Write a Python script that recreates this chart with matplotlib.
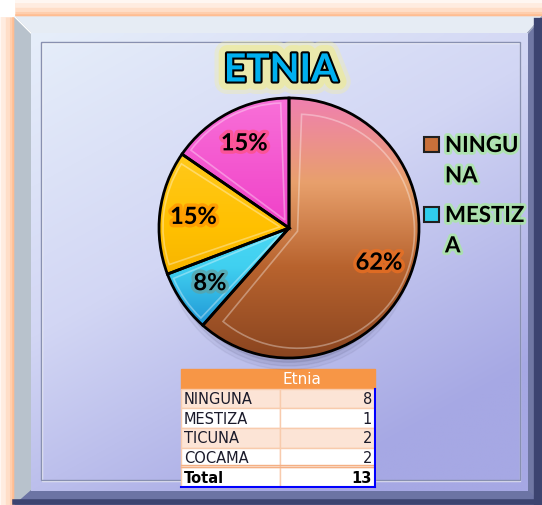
import numpy as np
import matplotlib
matplotlib.use("Agg")
import matplotlib.pyplot as plt
from matplotlib.patches import Rectangle, Polygon, Wedge, Ellipse
import matplotlib.patheffects as pe
from matplotlib.colors import to_rgb

# ---- data ----
categories = ["NINGUNA", "MESTIZA", "TICUNA", "COCAMA"]
values = [8, 1, 2, 2]
legend_labels = ["NINGU\nNA", "MESTIZ\nA"]
title = "ETNIA"
table_header = "Etnia"

colors = ["#C8703A", "#30CDEB", "#FFC000", "#F040C8"]
grad_stops = [
    [(1.0, "#F080B0"), (0.35, "#E8A06C"), (-0.3, "#B8632E"), (-1.0, "#8A4520")],
    [(1.0, "#70F0FF"), (-0.3, "#40D0F0"), (-1.0, "#1078C8")],
    [(1.0, "#FFD030"), (0.0, "#FFC000"), (-1.0, "#E8A000")],
    [(1.0, "#F870D8"), (0.0, "#F040C8"), (-1.0, "#D830B0")],
]
label_glow = ["#F07020", "#60A0A0", "#FF9000", "#FF5080"]

W, H = 542, 506
fig = plt.figure(figsize=(W / 100, H / 100), dpi=100)
fig.patch.set_facecolor("white")

bg = fig.add_axes([0, 0, 1, 1])
bg.set_xlim(0, W)
bg.set_ylim(H, 0)
bg.axis("off")

# orange glow
for lw, a in [(26, 0.08), (20, 0.12), (14, 0.18), (8, 0.25), (4, 0.35)]:
    bg.add_patch(Rectangle((15, 18), 540, 500, fill=False, edgecolor="#FFA060",
                           lw=lw, alpha=a, zorder=1))

# frame bevels
x0, y0, x1, y1 = 15, 18, 542, 506
ix0, iy0, ix1, iy1 = 31, 34, 528, 492
bg.add_patch(Polygon([(x0, y0), (x1, y0), (ix1, iy0), (ix0, iy0)], color="#E6ECF4", zorder=2))
bg.add_patch(Polygon([(x0, y0), (ix0, iy0), (ix0, iy1), (x0, y1)], color="#B8C2CC", zorder=2))
bg.add_patch(Polygon([(x1, y0), (x1, y1), (ix1, iy1), (ix1, iy0)], color="#7078A4", zorder=2))
bg.add_patch(Polygon([(x0, y1), (x1, y1), (ix1, iy1), (ix0, iy1)], color="#6C74A4", zorder=2))
bg.plot([x0, ix0], [y0, iy0], color="white", lw=1, zorder=2.1)
bg.plot([x1, ix1], [y0, iy0], color="#A0A8C0", lw=1, zorder=2.1)
bg.plot([x1 - 4, x1 - 4], [y0 + 5, y1], color="#3C4470", lw=6, zorder=2.2)
bg.plot([x0, x1], [y1 - 3, y1 - 3], color="#3C4470", lw=4, zorder=2.2)

# inner gradient
ny, nx = 120, 120
gy, gx = np.mgrid[0:1:ny * 1j, 0:1:nx * 1j]
t = np.clip(0.45 * gx + 0.75 * gy, 0, 1)
c_a = np.array(to_rgb("#E6EEFA"))
c_b = np.array(to_rgb("#D2D6F4"))
c_c = np.array(to_rgb("#A6A8E4"))
tt = t[..., None]
img = np.where(tt < 0.5, c_a + (c_b - c_a) * (tt / 0.5), c_b + (c_c - c_b) * ((tt - 0.5) / 0.5))
bg.imshow(img, extent=(ix0, ix1, iy1, iy0), origin="upper", aspect="auto", zorder=3,
          interpolation="bilinear")
bg.set_xlim(0, W)
bg.set_ylim(H, 0)
bg.add_patch(Rectangle((42, 44), 478, 438, fill=False, edgecolor="white", lw=1, alpha=0.7, zorder=3.5))
bg.add_patch(Rectangle((41, 43), 479, 438, fill=False, edgecolor="#8890B0", lw=1, zorder=3.6))

# title
bg.text(281, 71, title, ha="center", va="center", fontsize=28, fontweight="bold",
        family=["Lato", "DejaVu Sans"], color="#00B0F0", zorder=10,
        path_effects=[pe.Stroke(linewidth=18, foreground="#F4F0A0", alpha=0.35),
                      pe.Stroke(linewidth=12, foreground="#F0EC90", alpha=0.6),
                      pe.Stroke(linewidth=3, foreground="black"), pe.Normal()])

# legend (manual)
leg_y = [146, 216]
for i, lab in enumerate(legend_labels):
    bg.add_patch(Rectangle((424, leg_y[i] - 8), 15, 15, facecolor=colors[i],
                           edgecolor="#202020", lw=1.5, zorder=10))
    bg.text(445, leg_y[i] - 10, lab, ha="left", va="top", fontsize=16, fontweight="bold",
            family=["Lato", "DejaVu Sans"], color="black", linespacing=1.55, zorder=10,
            path_effects=[pe.Stroke(linewidth=4, foreground="#A8E8A0", alpha=0.8), pe.Normal()])

# ---- pie ----
cx, cy, R = 289, 229, 130
half = R * 1.1
pax = fig.add_axes([(cx - half) / W, (H - cy - half) / H, 2 * half / W, 2 * half / H])
pax.set_facecolor("none")
pax.axis("off")

# shadow
for k, a in [(1.0, 0.05), (0.97, 0.07), (0.94, 0.09)]:
    pax.add_patch(Ellipse((0.0, -0.14), 1.9 * k, 1.9 * k, color="#202040", alpha=a, zorder=0.5))

wedges, texts, autotexts = pax.pie(values, colors=colors, startangle=90, counterclock=False,
                                   autopct="%1.0f%%", pctdistance=0.74,
                                   wedgeprops=dict(edgecolor="black", linewidth=2))
pax.set_xlim(-1.1, 1.1)
pax.set_ylim(-1.1, 1.1)
pax.set_aspect("equal")

yy = np.linspace(1, -1, 200)
for w, stops in zip(wedges, grad_stops):
    pos = [s[0] for s in stops][::-1]
    cols = np.array([to_rgb(s[1]) for s in stops])[::-1]
    grad = np.stack([np.interp(yy, pos, cols[:, j]) for j in range(3)], axis=-1)
    gimg = np.repeat(grad[:, None, :], 10, axis=1)
    im = pax.imshow(gimg, extent=(-1, 1, -1, 1), origin="upper", aspect="auto",
                    zorder=1.5, interpolation="bilinear")
    im.set_clip_path(w)
    w.set_facecolor("none")
    w.set_zorder(3)
    # bevel highlight
    th1, th2 = w.theta1, w.theta2
    mid = np.deg2rad((th1 + th2) / 2)
    off = 0.07
    inner = Wedge((off * np.cos(mid), off * np.sin(mid)), 0.9, th1 + 2, th2 - 2,
                  fill=False, edgecolor="white", lw=1.2, alpha=0.35, zorder=2)
    pax.add_patch(inner)
pax.set_xlim(-1.1, 1.1)
pax.set_ylim(-1.1, 1.1)

for t_, g in zip(autotexts, label_glow):
    t_.set_fontsize(17)
    t_.set_fontweight("bold")
    t_.set_family(["Lato", "DejaVu Sans"])
    t_.set_color("black")
    t_.set_zorder(5)
    t_.set_path_effects([pe.Stroke(linewidth=5, foreground=g, alpha=0.7), pe.Normal()])

# ---- table ----
cell_text = [["", table_header]] + [[c, str(v)] for c, v in zip(categories, values)] + \
            [["Total", str(sum(values))]]
tx0, tx1, ty0, ty1 = 181, 375, 370, 488
tab = bg.table(cellText=cell_text, colWidths=[99 / 194, 95 / 194],
               bbox=[tx0 / W, 1 - ty1 / H, (tx1 - tx0) / W, (ty1 - ty0) / H], zorder=8)
tab.auto_set_font_size(False)
tab.set_fontsize(10.5)
nrows = len(cell_text)
for (r, c), cell in tab.get_celld().items():
    cell.PAD = 0.03
    cell.set_linewidth(1)
    cell.set_edgecolor("#F8CBAD")
    txt = cell.get_text()
    txt.set_family(["DejaVu Sans"])
    txt.set_color("#1A1A2A")
    cell._loc = "left" if c == 0 else "right"
    cell.set_text_props(ha="left" if c == 0 else "right")
    if r == 0:
        cell.set_facecolor("#F79646")
        cell.set_edgecolor("#F79646")
        txt.set_color("white")
        txt.set_fontsize(11)
        cell._loc = "left"
        cell.set_text_props(ha="left")
    elif r in (1, 3):
        cell.set_facecolor("#FCE4D6")
    else:
        cell.set_facecolor("white")
    if r == nrows - 1:
        txt.set_fontweight("bold")
        txt.set_color("black")
row_h = (ty1 - ty0) / nrows
bg.plot([tx0, tx1], [ty1 - row_h, ty1 - row_h], color="#F4B084", lw=1, zorder=9)
bg.plot([tx0, tx1], [ty1 - row_h - 2, ty1 - row_h - 2], color="#F4B084", lw=1, zorder=9)
bg.plot([tx1, tx1], [ty0 + row_h, ty1], color="#0000FF", lw=1.5, zorder=9)
bg.plot([tx0, tx1], [ty1, ty1], color="#0000FF", lw=1.5, zorder=9)
bg.set_xlim(0, W)
bg.set_ylim(H, 0)

fig.savefig("out.png", dpi=100, facecolor=fig.get_facecolor())
